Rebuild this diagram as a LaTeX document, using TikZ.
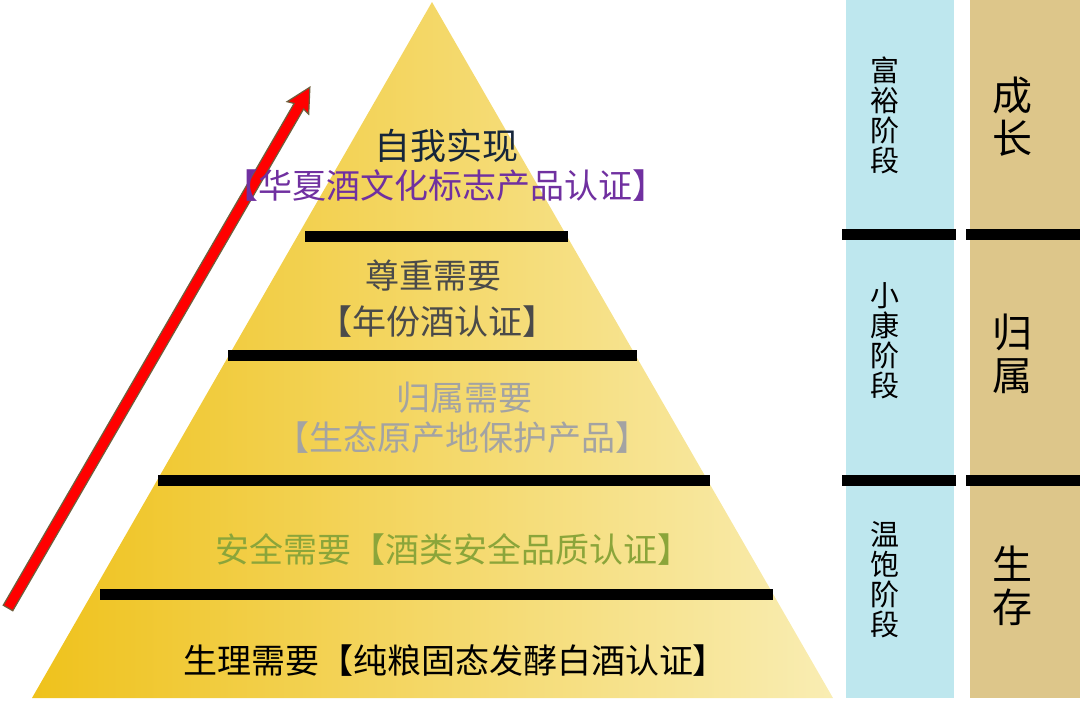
\documentclass[tikz,border=0pt]{standalone}
\usepackage{fontspec}
\setmainfont{Noto Sans CJK SC}
\usetikzlibrary{calc}
\definecolor{goldL}{HTML}{EFC21C}
\definecolor{goldM}{HTML}{F3CD36}
\definecolor{goldR}{HTML}{F9EDB3}
\definecolor{colblue}{HTML}{BEE7EE}
\definecolor{coltan}{HTML}{DDC68A}
\definecolor{navytxt}{HTML}{16263A}
\definecolor{purptxt}{HTML}{7030A0}
\definecolor{darkgraytxt}{HTML}{4A4A4A}
\definecolor{lightgraytxt}{HTML}{A3A3A3}
\definecolor{olivetxt}{HTML}{8BA53A}
\definecolor{arrowedge}{HTML}{6E5F3C}
\tikzset{
  levelbar/.style={line width=11pt},
  pyrtext/.style={inner sep=0pt, font=\fontsize{34}{40}\selectfont, align=center},
  stagetext/.style={inner sep=0pt, font=\fontsize{29}{30}\selectfont, align=center, text=black},
  needtext/.style={inner sep=0pt, font=\fontsize{40}{43}\selectfont, align=center, text=black},
}
\begin{document}
\begin{tikzpicture}[x=1pt,y=-1pt]
\useasboundingbox (0,0) rectangle (1080,702);
% pyramid
\coordinate (apex) at (432,2);
\coordinate (baseL) at (32,698);
\coordinate (baseR) at (833,698);
\shade[left color=goldL, middle color=goldM, right color=goldR] (apex) -- (baseR) -- (baseL) -- cycle;
% level bars
\coordinate (b1l) at (305,236); \coordinate (b1r) at (568,236);
\coordinate (b2l) at (228,355); \coordinate (b2r) at (637,355);
\coordinate (b3l) at (158,480); \coordinate (b3r) at (710,480);
\coordinate (b4l) at (100,594); \coordinate (b4r) at (773,594);
\draw[levelbar] (b1l) -- (b1r);
\draw[levelbar] (b2l) -- (b2r);
\draw[levelbar] (b3l) -- (b3r);
\draw[levelbar] (b4l) -- (b4r);
% red arrow
\coordinate (arrowtail) at (8,608);
\coordinate (arrowtip) at (310,87);
\begin{scope}[shift={(arrowtail)}, rotate=59.9]
\filldraw[fill=red, draw=arrowedge, line width=1.2pt, line join=miter]
  (0,-5.5) -- (580,-5.5) -- (578,-12.5) -- (602,0) -- (578,12.5) -- (580,5.5) -- (0,5.5) -- cycle;
\end{scope}
% pyramid texts
\node[pyrtext, text=navytxt, font=\fontsize{36}{40}\selectfont] (t1a) at (446,146) {自我实现};
\node[pyrtext, text=purptxt] (t1b) at (445,186) {【华夏酒文化标志产品认证】};
\node[pyrtext, text=darkgraytxt] (t2a) at (433,276) {尊重需要};
\node[pyrtext, text=darkgraytxt] (t2b) at (437,322) {【年份酒认证】};
\node[pyrtext, text=lightgraytxt] (t3a) at (464,398) {归属需要};
\node[pyrtext, text=lightgraytxt] (t3b) at (462,438) {【生态原产地保护产品】};
\node[pyrtext, text=olivetxt] (t4) at (453,549) {安全需要【酒类安全品质认证】};
\node[pyrtext, text=black] (t5) at (455,661) {生理需要【纯粮固态发酵白酒认证】};
% right columns
\fill[colblue] (846,0) rectangle (954,698);
\fill[coltan] (970,0) rectangle (1080,698);
\coordinate (cb1l) at (842,234); \coordinate (cb1r) at (956,234);
\coordinate (ct1l) at (966,234); \coordinate (ct1r) at (1080,234);
\coordinate (cb2l) at (842,480); \coordinate (cb2r) at (956,480);
\coordinate (ct2l) at (966,480); \coordinate (ct2r) at (1080,480);
\draw[levelbar] (cb1l) -- (cb1r);
\draw[levelbar] (ct1l) -- (ct1r);
\draw[levelbar] (cb2l) -- (cb2r);
\draw[levelbar] (ct2l) -- (ct2r);
\node[stagetext] (s1) at (885,115) {富\\裕\\阶\\段};
\node[stagetext] (s2) at (885,341) {小\\康\\阶\\段};
\node[stagetext] (s3) at (885,580) {温\\饱\\阶\\段};
\node[needtext] (n1) at (1012,117) {成\\长};
\node[needtext] (n2) at (1012,354) {归\\属};
\node[needtext] (n3) at (1012,586) {生\\存};
\end{tikzpicture}
\end{document}
